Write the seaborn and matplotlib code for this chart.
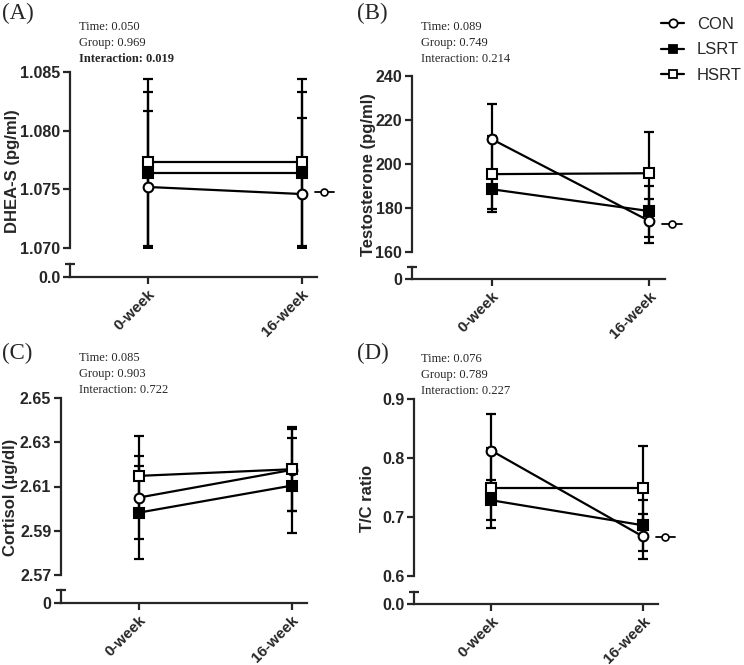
import numpy as np
import pandas as pd
import matplotlib
matplotlib.use("Agg")
import matplotlib.pyplot as plt
import seaborn as sns
from matplotlib.lines import Line2D

sns.set_theme(style="ticks")
plt.rcParams["font.family"] = ["Liberation Sans", "DejaVu Sans"]

groups = ["CON", "LSRT", "HSRT"]
timepoints = ["0-week", "16-week"]

# Panel A: DHEA-S
dhea_mean = [[1.0752, 1.0746], [1.0764, 1.0764], [1.0773, 1.0773]]
dhea_sd = [[0.0065, 0.0065], [0.0069, 0.0069], [0.0071, 0.0071]]
dhea_ticks = [1.070, 1.075, 1.080, 1.085]
dhea_stats = ["Time: 0.050", "Group: 0.969", "Interaction: 0.019"]

# Panel B: Testosterone
testo_mean = [[211.2, 174.1], [188.5, 178.6], [195.4, 195.8]]
testo_sd = [[15.9, 10.0], [9.0, 11.6], [17.4, 18.6]]
testo_ticks = [160, 180, 200, 220, 240]
testo_stats = ["Time: 0.089", "Group: 0.749", "Interaction: 0.214"]

# Panel C: Cortisol
cort_mean = [[2.605, 2.6175], [2.5982, 2.6104], [2.6148, 2.6178]]
cort_sd = [[0.0189, 0.0184], [0.0210, 0.0213], [0.0178, 0.0190]]
cort_ticks = [2.57, 2.59, 2.61, 2.63, 2.65]
cort_stats = ["Time: 0.085", "Group: 0.903", "Interaction: 0.722"]

# Panel D: T/C ratio
tc_mean = [[0.8125, 0.667], [0.7284, 0.686], [0.7494, 0.7494]]
tc_sd = [[0.062, 0.0386], [0.034, 0.043], [0.068, 0.071]]
tc_ticks = [0.6, 0.7, 0.8, 0.9]
tc_stats = ["Time: 0.076", "Group: 0.789", "Interaction: 0.227"]

W, H = 744, 665
fig = plt.figure(figsize=(W / 100, H / 100), dpi=100)

styles = {
    "CON": dict(marker="o", mfc="white"),
    "LSRT": dict(marker="s", mfc="black"),
    "HSRT": dict(marker="s", mfc="white"),
}

def rect(x0, x1, ytop, ybot):
    return [x0 / W, 1 - ybot / H, (x1 - x0) / W, (ybot - ytop) / H]

panels = [
    dict(tag="(A)", mean=dhea_mean, sd=dhea_sd, ticks=dhea_ticks, fmt="{:.3f}", zero="0.0",
         ylabel="DHEA-S (pg/ml)", stats=dhea_stats, bold_last=True,
         box=(70, 317, 72, 248, 264, 277), lab=(2, 13), ylab_x=13, stat_xy=(79, 27), stray=0.31),
    dict(tag="(B)", mean=testo_mean, sd=testo_sd, ticks=testo_ticks, fmt="{:.0f}", zero="0",
         ylabel="Testosterone (pg/ml)", stats=testo_stats, bold_last=False,
         box=(412, 665, 76, 252, 267, 279), lab=(357, 13), ylab_x=368, stat_xy=(421, 27), stray=0.15),
    dict(tag="(C)", mean=cort_mean, sd=cort_sd, ticks=cort_ticks, fmt="{:.2f}", zero="0",
         ylabel="Cortisol (µg/dl)", stats=cort_stats, bold_last=False,
         box=(61, 307, 398, 575, 590, 603), lab=(2, 353), ylab_x=11, stat_xy=(79, 358), stray=None),
    dict(tag="(D)", mean=tc_mean, sd=tc_sd, ticks=tc_ticks, fmt="{:.1f}", zero="0.0",
         ylabel="T/C ratio", stats=tc_stats, bold_last=False,
         box=(414, 658, 399, 576, 592, 604), lab=(357, 353), ylab_x=368, stat_xy=(421, 359), stray=0.215),
]

LW = 1.6
xpos = np.arange(len(timepoints))
XLIM = (-0.51, 1.1)

for p in panels:
    x0, x1, yt, yb, lt, lb = p["box"]
    ax = fig.add_axes(rect(x0, x1, yt, yb))
    axl = fig.add_axes(rect(x0, x1, lt, lb))
    ylo, yhi = p["ticks"][0], p["ticks"][-1]

    for gi, g in enumerate(groups):
        m = np.array(p["mean"][gi])
        s = np.array(p["sd"][gi])
        lo = np.minimum(s, m - ylo * 1.00001)
        ax.errorbar(xpos, m, yerr=[lo, s], fmt="none", ecolor="black",
                    elinewidth=LW, capsize=3.5, capthick=LW, zorder=2)
        df = pd.DataFrame({"x": xpos, "y": m})
        st = styles[g]
        sns.lineplot(data=df, x="x", y="y", ax=ax, color="black", lw=LW,
                     marker=st["marker"], markersize=7, markerfacecolor=st["mfc"],
                     markeredgecolor="black", markeredgewidth=1.5, zorder=3 + gi,
                     legend=False)

    ax.set_xlim(*XLIM)
    ax.set_ylim(ylo, yhi)
    ax.set_yticks(p["ticks"])
    ax.set_yticklabels([p["fmt"].format(t) for t in p["ticks"]])
    ax.set_xticks([])
    ax.set_xlabel("")
    ax.set_ylabel("")
    for sp in ["top", "right", "bottom"]:
        ax.spines[sp].set_visible(False)
    ax.spines["left"].set_linewidth(LW)
    ax.tick_params(axis="y", direction="out", length=5, width=LW, labelsize=11.5, pad=2)
    for t in ax.get_yticklabels():
        t.set_fontweight("bold")
    ax.patch.set_alpha(0)

    # lower segment (broken axis)
    axl.set_xlim(*XLIM)
    axl.set_ylim(0, 1)
    axl.set_yticks([0])
    axl.set_yticklabels([p["zero"]])
    axl.set_yticks([1], minor=True)
    axl.tick_params(axis="y", which="major", direction="out", length=5, width=LW, labelsize=11.5, pad=2)
    axl.tick_params(axis="y", which="minor", direction="inout", length=7, width=LW)
    axl.set_xticks(xpos)
    axl.set_xticklabels(timepoints, rotation=45, ha="right", rotation_mode="anchor",
                        fontsize=11, fontweight="bold")
    axl.tick_params(axis="x", direction="out", length=5, width=LW, pad=2)
    for t in axl.get_yticklabels():
        t.set_fontweight("bold")
    for sp in ["top", "right"]:
        axl.spines[sp].set_visible(False)
    axl.spines["left"].set_linewidth(LW)
    axl.spines["bottom"].set_linewidth(LW)
    axl.patch.set_alpha(0)

    # y label
    fig.text(p["ylab_x"] / W, 1 - ((yt + lb) / 2 - 3) / H, p["ylabel"], rotation=90,
             ha="center", va="center", fontsize=12, fontweight="bold")
    # panel tag
    fig.text(p["lab"][0] / W, 1 - p["lab"][1] / H, p["tag"], ha="left", va="center",
             fontsize=16.5, family=["Liberation Serif"])
    # stats
    sx, sy = p["stat_xy"]
    for i, line in enumerate(p["stats"]):
        fw = "bold" if (p["bold_last"] and i == 2) else "normal"
        fig.text(sx / W, 1 - (sy + 16 * i) / H, line, ha="left", va="center",
                 fontsize=9, fontweight=fw, family=["Liberation Serif"])

    if p["stray"] is not None:
        h = Line2D([], [], color="black", lw=1.3, marker="o", markersize=5,
                   mfc="white", mec="black", mew=1.2)
        ax.legend(handles=[h], labels=[""], loc="center left", bbox_to_anchor=(0.99, p["stray"]),
                  frameon=False, handlelength=1.3, handletextpad=0, borderpad=0, borderaxespad=0)

handles = [Line2D([], [], color="black", lw=LW, marker=styles[g]["marker"], markersize=6,
                  mfc=styles[g]["mfc"], mec="black", mew=1.3) for g in groups]
fig.legend(handles, groups, loc="upper left", bbox_to_anchor=(661 / W, 1 - 17 / H),
           frameon=False, fontsize=12, handlelength=1.4, handletextpad=0.75,
           labelspacing=0.62, borderpad=0, borderaxespad=0)

fig.savefig("out.png", dpi=100, facecolor="white")
